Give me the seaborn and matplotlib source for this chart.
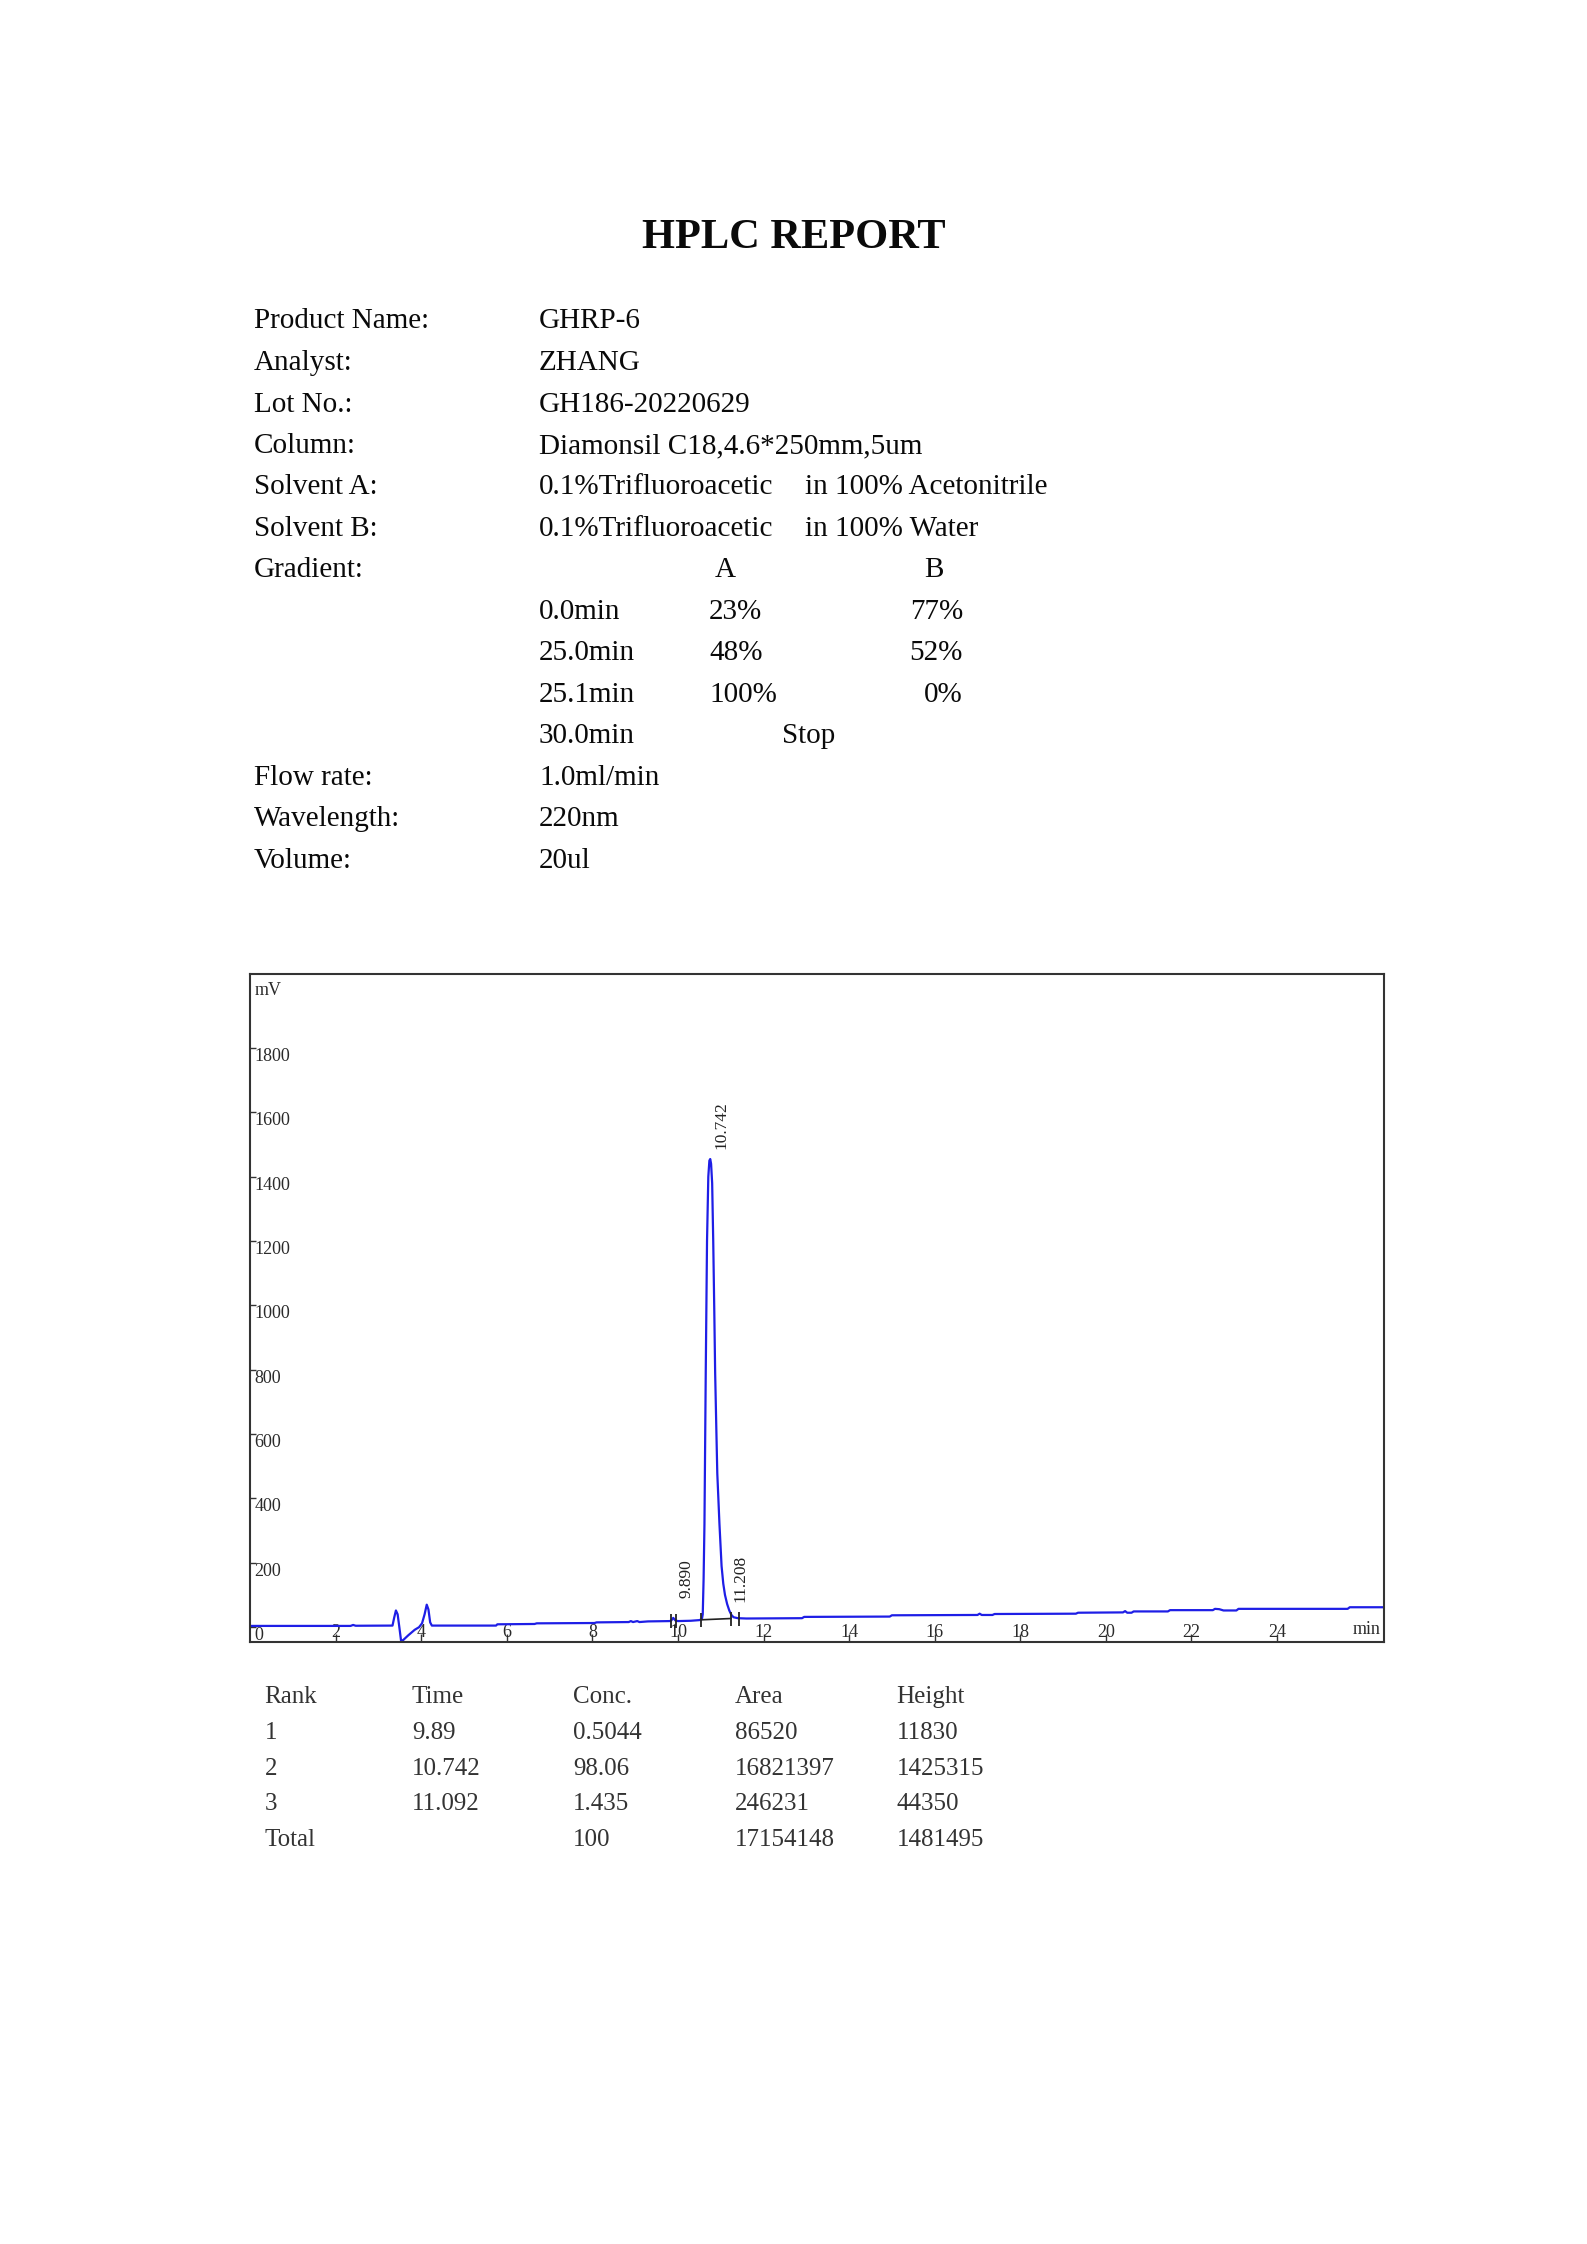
import numpy as np
import pandas as pd
import matplotlib
matplotlib.use("Agg")
import matplotlib.pyplot as plt
import seaborn as sns

# ---------------- data ----------------
title = "HPLC REPORT"
header_keys = ["Product Name:", "Analyst:", "Lot No.:", "Column:", "Solvent A:",
               "Solvent B:", "Gradient:"]
header_values = ["GHRP-6", "ZHANG", "GH186-20220629", "Diamonsil C18,4.6*250mm,5um",
                 "0.1%Trifluoroacetic", "0.1%Trifluoroacetic", ""]
solvent_tail = ["in 100% Acetonitrile", "in 100% Water"]
grad_times = ["0.0min", "25.0min", "25.1min", "30.0min"]
grad_A = ["23%", "48%", "100%", ""]
grad_B = ["77%", "52%", "0%", ""]
footer_keys = ["Flow rate:", "Wavelength:", "Volume:"]
footer_values = ["1.0ml/min", "220nm", "20ul"]

table_header = ["Rank", "Time", "Conc.", "Area", "Height"]
table_rank = ["1", "2", "3", "Total"]
table_time = ["9.89", "10.742", "11.092", ""]
table_conc = ["0.5044", "98.06", "1.435", "100"]
table_area = ["86520", "16821397", "246231", "17154148"]
table_height = ["11830", "1425315", "44350", "1481495"]

# chromatogram trace (min, mV)
time_min = [0.0, 2.35, 2.41, 2.47, 3.33, 3.37, 3.41, 3.45, 3.49, 3.53, 3.58, 3.70,
            3.85, 3.95, 4.02, 4.08, 4.13, 4.17, 4.21, 4.25, 5.75, 5.78, 6.65, 6.70,
            8.05, 8.10, 8.85, 8.90, 8.95, 9.05, 9.10, 9.30, 9.80, 9.84, 9.89, 9.94,
            10.00, 10.30, 10.50, 10.56, 10.58, 10.60, 10.62, 10.65, 10.68, 10.71,
            10.735, 10.755, 10.775, 10.80, 10.825, 10.85, 10.87, 10.90, 10.92, 10.97,
            11.02, 11.06, 11.10, 11.15, 11.20, 11.25, 11.30, 11.40, 11.60, 12.90,
            12.95, 14.95, 15.00, 17.00, 17.05, 17.10, 17.35, 17.40, 19.30, 19.35,
            20.40, 20.45, 20.50, 20.60, 20.65, 21.45, 21.50, 22.50, 22.55, 22.65,
            22.75, 23.05, 23.10, 25.65, 25.70, 26.50]
signal_mV = [4, 4, 7, 4.5, 5, 30, 52, 40, 0, -42, -40, -25,
             -8, 0, 12, 40, 70, 55, 15, 5, 5, 9, 10, 12,
             13, 15, 16, 19, 16, 19, 16, 18, 19, 20, 29, 21,
             19, 20, 22, 25, 40, 150, 320, 790, 1200, 1400,
             1450, 1455, 1440, 1380, 1200, 980, 790, 600, 478, 322,
             190, 135, 100, 72, 52, 38, 31, 28, 27, 28,
             32, 33, 37, 38, 42, 38, 38, 41, 42, 45,
             46, 50, 45, 45, 49, 49, 53, 53, 57, 56,
             52, 52, 57, 57, 62, 62]

# integration event marks and baseline of main peak
event_times = [9.83, 9.95, 10.55, 11.24, 11.42]
event_levels = [19, 20, 23, 27, 27]
base_times = [10.55, 11.24]
base_levels = [23, 27]

# peak labels
peak_label_text = ["9.890", "10.742", "11.208"]
peak_label_t = [10.2, 11.02, 11.45]
peak_label_y = [150, 1560, 150]

y_ticks = [0, 200, 400, 600, 800, 1000, 1200, 1400, 1600, 1800]
x_ticks = [2, 4, 6, 8, 10, 12, 14, 16, 18, 20, 22, 24]

# ---------------- style ----------------
sns.set_style("white")
plt.rcParams["font.family"] = ["Liberation Serif", "DejaVu Serif"]

W, H = 1587, 2244
fig = plt.figure(figsize=(W / 100, H / 100), dpi=100)
fig.patch.set_facecolor("white")


def px(x, y):
    return x / W, 1 - y / H


TXT = "#0a0a0a"
hs = 21

# title
fig.text(*px(793.5, 238), title, ha="center", va="center", fontsize=30.5,
         fontweight="bold", color=TXT)

# header block
row0, dy = 321.5, 41.5
xk, xv = 254, 539
for i, (k, v) in enumerate(zip(header_keys, header_values)):
    y = row0 + i * dy
    fig.text(*px(xk, y), k, ha="left", va="center", fontsize=hs, color=TXT)
    if v:
        fig.text(*px(xv, y), v, ha="left", va="center", fontsize=hs, color=TXT)
for i, s in enumerate(solvent_tail):
    fig.text(*px(805, row0 + (4 + i) * dy), s, ha="left", va="center",
             fontsize=hs, color=TXT)
gy = row0 + 6 * dy
fig.text(*px(725, gy), "A", ha="center", va="center", fontsize=hs, color=TXT)
fig.text(*px(934, gy), "B", ha="center", va="center", fontsize=hs, color=TXT)
for i, (t, a, b) in enumerate(zip(grad_times, grad_A, grad_B)):
    y = row0 + (7 + i) * dy
    fig.text(*px(xv, y), t, ha="left", va="center", fontsize=hs, color=TXT)
    if a:
        fig.text(*px(709, y), a, ha="left", va="center", fontsize=hs, color=TXT)
    if b:
        fig.text(*px(963, y), b, ha="right", va="center", fontsize=hs, color=TXT)
fig.text(*px(809, row0 + 10 * dy), "Stop", ha="center", va="center",
         fontsize=hs, color=TXT)
for i, (k, v) in enumerate(zip(footer_keys, footer_values)):
    y = row0 + (11 + i) * dy
    fig.text(*px(xk, y), k, ha="left", va="center", fontsize=hs, color=TXT)
    fig.text(*px(xv, y), v, ha="left", va="center", fontsize=hs, color=TXT)

# ---------------- chromatogram ----------------
ax = fig.add_axes([250 / W, 1 - 1642 / H, 1134 / W, 668 / H])
df = pd.DataFrame({"t": time_min, "mV": signal_mV})
sns.lineplot(data=df, x="t", y="mV", ax=ax, color="#1e1ee6", lw=1.6,
             estimator=None, sort=False)
sns.lineplot(x=base_times, y=base_levels, ax=ax, color="#222222", lw=1.2,
             estimator=None)
ax.plot(event_times, event_levels, ls="none", marker="|", ms=10, mew=1.3,
        color="#222222")

ax.set_xlim(0, 26.5)
ax.set_ylim(-46, 2030)
ax.set_xlabel("")
ax.set_ylabel("")
for sp in ax.spines.values():
    sp.set_color("#333333")
    sp.set_linewidth(1.5)

ax.set_yticks(y_ticks)
ax.set_yticklabels([str(v) for v in y_ticks])
ax.tick_params(axis="y", direction="in", length=4, width=1, pad=-3,
               labelsize=13, labelcolor="#2a2a2a", color="#333333", left=True)
for lbl in ax.get_yticklabels():
    lbl.set_horizontalalignment("left")
    lbl.set_verticalalignment("top")

ax.set_xticks(x_ticks)
ax.set_xticklabels([str(v) for v in x_ticks])
ax.tick_params(axis="x", direction="in", length=6, width=1, pad=-1,
               labelsize=13, labelcolor="#2a2a2a", color="#333333", bottom=True)
for lbl in ax.get_xticklabels():
    lbl.set_verticalalignment("bottom")

ax.text(0.004, 0.975, "mV", transform=ax.transAxes, ha="left", va="center",
        fontsize=13, color="#2a2a2a")
ax.text(0.997, 0.006, "min", transform=ax.transAxes, ha="right", va="bottom",
        fontsize=13, color="#2a2a2a")

for s, t, y in zip(peak_label_text, peak_label_t, peak_label_y):
    ax.text(t, y, s, rotation=90, ha="center", va="center", fontsize=12.5,
            color="#222222")

# ---------------- results table ----------------
tcols = [264.5, 412, 573, 735, 896.6]
trow0, tdy = 1697, 35.8
ts = 18
TC = "#333333"
for j, h in enumerate(table_header):
    fig.text(*px(tcols[j], trow0), h, ha="left", va="center", fontsize=ts, color=TC)
for i in range(len(table_rank)):
    y = trow0 + (i + 1) * tdy
    vals = [table_rank[i], table_time[i], table_conc[i], table_area[i], table_height[i]]
    for j, v in enumerate(vals):
        if v:
            fig.text(*px(tcols[j], y), v, ha="left", va="center", fontsize=ts, color=TC)

fig.savefig("out.png", dpi=100, facecolor="white")
